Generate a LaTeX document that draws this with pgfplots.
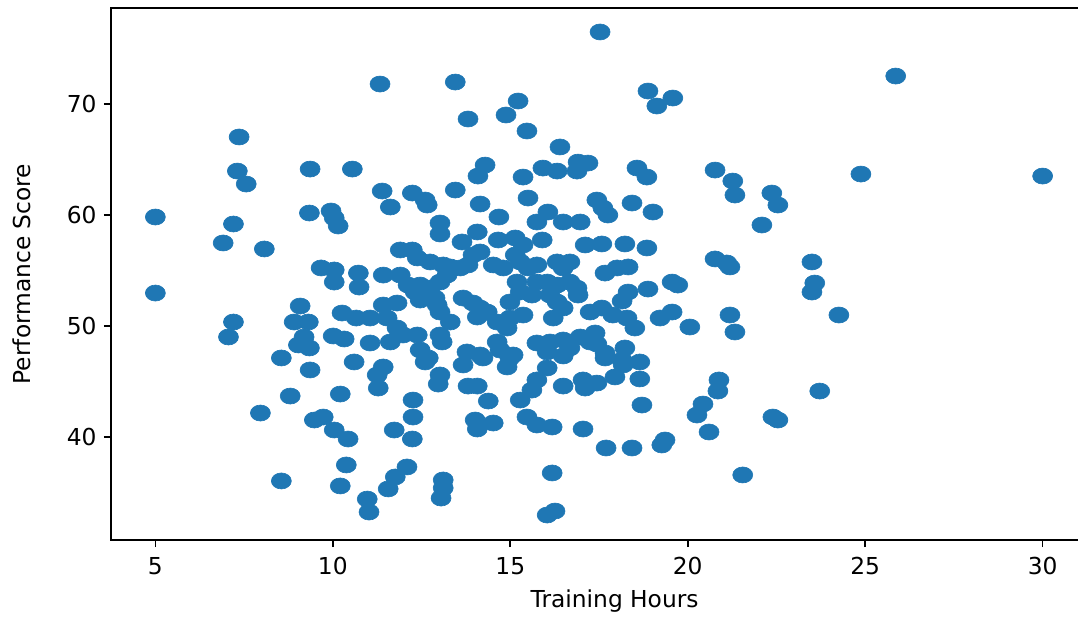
\documentclass[border=0pt]{standalone}
\usepackage{pgfplots}
\pgfplotsset{compat=1.18}
\usepackage{fontspec}
\setmainfont{DejaVu Sans}
\definecolor{mplblue}{HTML}{1F77B4}
\begin{document}
\begin{tikzpicture}
\useasboundingbox (-53.28pt,-36.48pt) rectangle (464.16pt,259.2pt);
\begin{axis}[
  at={(0,0)}, anchor=south west,
  scale only axis, width=468.48pt, height=255.36pt,
  xmin=3.75, xmax=31.25, ymin=30.72, ymax=78.65,
  xtick={5,10,15,20,25,30}, ytick={40,50,60,70},
  tick pos=left, tick align=outside,
  major tick length=3.4pt,
  every tick/.style={black, line width=0.8pt},
  axis line style={line width=0.8pt},
  /pgf/number format/assume math mode=true,
  ticklabel style={font=\fontsize{11.2pt}{13pt}\selectfont},
  xticklabel style={yshift=-1.5pt},
  xlabel={Training Hours}, ylabel={Performance Score},
  every axis x label/.style={at={(axis description cs:0.516,-0.1147)}, anchor=center, font=\fontsize{11.2pt}{13pt}\selectfont},
  every axis y label/.style={at={(axis description cs:-0.0912,0.5)}, anchor=center, rotate=90, font=\fontsize{11.2pt}{13pt}\selectfont},
]
\addplot[only marks, mark=*, mark size=3.84pt, mark options={xscale=1.25, fill=mplblue, draw=mplblue, line width=0.3pt}] table {
x y
17.53 76.49
25.86 72.52
11.33 71.80
13.45 71.98
18.88 71.17
15.22 70.27
19.58 70.54
19.13 69.82
14.88 69.01
13.81 68.65
15.47 67.57
7.36 67.03
16.40 66.13
7.31 63.96
7.56 62.79
9.36 64.14
10.55 64.14
14.29 64.50
14.09 63.51
15.36 63.42
15.92 64.23
16.32 63.96
16.91 64.77
17.19 64.68
16.88 63.96
18.57 64.23
18.85 63.42
20.77 64.05
21.27 63.06
21.33 61.80
24.88 63.69
30.00 63.51
11.39 62.16
12.24 61.98
12.60 61.35
12.66 60.90
11.62 60.72
13.45 62.25
14.15 60.99
14.68 59.82
15.50 61.53
17.44 61.35
17.61 60.63
17.75 60.00
18.43 61.08
19.02 60.27
22.37 61.98
22.54 60.90
22.09 59.10
5.00 59.82
7.20 59.19
6.91 57.48
8.07 56.94
9.34 60.18
9.95 60.36
10.04 59.73
10.15 59.01
9.67 55.23
10.04 55.05
10.04 53.96
10.72 54.77
10.74 53.51
5.00 52.97
9.08 51.80
8.91 50.36
9.31 50.36
7.20 50.36
7.06 49.01
9.19 49.01
9.03 48.29
9.34 48.02
8.55 47.12
10.26 51.17
10.66 50.72
10.01 49.10
10.32 48.83
10.60 46.76
9.36 46.04
8.80 43.69
10.21 43.87
7.96 42.16
9.48 41.53
9.73 41.80
10.04 40.63
10.43 39.82
10.38 37.48
8.55 36.04
10.21 35.59
10.97 34.41
11.02 33.24
11.42 46.31
11.25 45.59
11.28 44.41
12.26 43.33
12.26 41.80
11.73 40.63
12.24 39.82
12.09 37.30
11.76 36.40
11.56 35.32
13.11 36.13
13.11 35.41
13.05 34.50
12.60 46.76
13.02 45.59
12.97 44.77
13.67 46.49
13.81 44.59
14.07 44.59
14.38 43.24
14.01 41.53
14.07 40.72
14.52 41.26
14.23 47.12
14.91 46.31
15.28 43.33
15.47 41.80
15.75 41.08
16.18 40.90
17.05 40.72
15.61 44.23
15.75 45.14
16.04 46.22
16.49 44.59
17.05 45.14
17.11 44.41
17.44 44.86
16.18 36.76
16.04 32.97
16.26 33.33
16.49 47.30
17.67 47.12
18.18 46.49
18.65 46.76
17.95 45.41
18.65 45.23
18.71 42.88
17.70 39.01
18.43 39.01
19.27 39.28
19.36 39.73
20.88 45.14
20.85 44.14
20.43 42.97
20.26 41.98
20.60 40.45
23.72 44.14
22.40 41.80
22.54 41.53
21.55 36.58
17.58 57.39
18.23 57.39
18.85 57.03
17.11 57.30
17.67 54.77
18.01 55.23
18.32 55.32
19.56 53.96
19.72 53.69
18.88 53.33
18.32 53.06
18.15 52.25
20.77 56.04
21.10 55.68
21.19 55.32
23.50 55.77
23.58 53.87
23.50 53.06
24.26 50.99
17.25 51.26
17.58 51.62
17.89 50.99
18.29 50.72
18.51 49.82
19.22 50.72
19.56 51.26
20.06 49.91
21.19 50.99
21.33 49.46
17.44 48.38
17.67 47.57
18.23 48.02
18.15 46.94
13.02 59.28
13.02 58.29
14.07 58.47
13.64 57.57
11.90 56.85
12.24 56.85
12.38 56.13
12.74 55.77
13.11 55.50
13.31 55.32
13.95 56.40
14.15 56.67
13.81 55.50
13.59 55.23
11.42 54.59
11.90 54.59
12.12 53.69
12.46 53.69
13.02 53.96
13.22 54.59
14.52 55.50
14.80 55.23
14.66 57.75
15.14 57.93
15.36 57.30
15.14 56.40
15.28 55.77
15.50 55.23
15.75 55.50
15.90 57.75
15.75 59.37
16.06 60.27
16.49 59.37
16.97 59.37
16.32 55.77
16.68 55.77
16.49 55.23
15.19 53.96
15.75 53.96
16.04 53.96
16.32 53.69
16.68 53.96
16.88 53.42
16.91 52.79
14.99 52.16
15.28 53.06
15.61 52.79
16.12 52.79
16.32 52.16
16.49 51.62
16.21 50.72
13.67 52.52
13.95 52.07
14.15 51.62
14.35 51.26
14.07 50.81
14.63 50.36
14.99 50.72
15.36 50.99
14.91 49.82
14.63 48.56
14.71 47.84
15.08 47.39
12.74 53.42
12.88 52.52
12.94 51.89
13.02 51.26
13.31 50.36
13.02 49.19
13.08 48.56
12.46 52.34
12.32 53.06
11.42 51.89
11.81 52.07
11.05 50.72
11.53 50.72
11.81 49.82
11.98 49.19
11.62 48.56
11.05 48.47
12.38 49.19
12.46 47.84
12.69 47.12
13.78 47.66
14.15 47.39
14.99 47.12
15.75 48.47
16.12 48.56
16.49 48.74
16.97 49.01
17.39 49.37
17.25 48.56
16.68 48.02
16.04 47.66
};
\end{axis}
\end{tikzpicture}
\end{document}
